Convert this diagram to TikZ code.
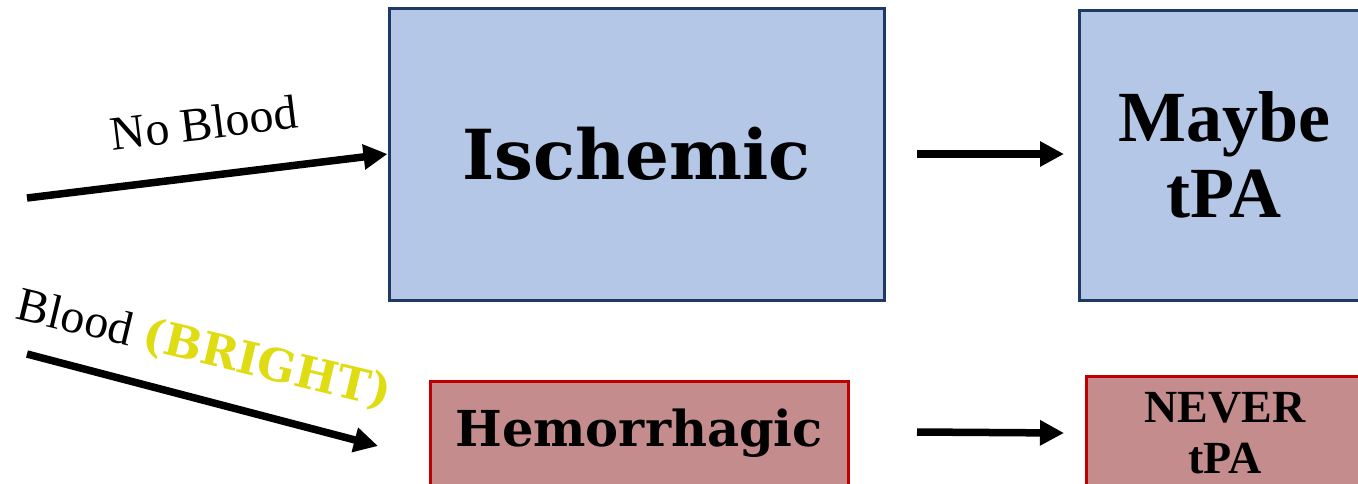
\documentclass[tikz,border=0pt]{standalone}
\usepackage{fontspec}
\setmainfont{Liberation Serif}
\newfontfamily\geo{DejaVu Serif}
\usetikzlibrary{arrows.meta}
\definecolor{bluefill}{HTML}{B4C7E7}
\definecolor{blueline}{HTML}{1F3864}
\definecolor{redfill}{HTML}{C48C8C}
\definecolor{redline}{HTML}{C00000}
\definecolor{bright}{HTML}{E0DC14}
\begin{document}
\begin{tikzpicture}[x=1pt,y=-1pt,
  bluebox/.style={draw=blueline, fill=bluefill, line width=3pt, inner sep=0pt},
  redbox/.style={draw=redline, fill=redfill, line width=3pt, inner sep=0pt},
  conn/.style={line width=7.5pt, -{Triangle[length=24pt,width=24pt]}},
  lbl/.style={inner sep=0pt}]
\clip (0,0) rectangle (1358,483);
\fill[white] (0,0) rectangle (1358,483);
% boxes
\node[bluebox, minimum width=495pt, minimum height=292pt, font=\geo\bfseries\fontsize{69}{72}\selectfont] (isch) at (636.5,154) {Ischemic};
\node[bluebox, minimum width=290pt, minimum height=290pt, align=center, font=\bfseries\fontsize{72}{76}\selectfont] (maybe) at (1224,155) {Maybe\\tPA};
\node[redbox, minimum width=418pt, minimum height=105pt, font=\geo\bfseries\fontsize{49.5}{52}\selectfont] (hem) at (639,433.5) {Hemorrhagic};
\node[redbox, minimum width=278pt, minimum height=114pt, align=center, font=\bfseries\fontsize{46}{51}\selectfont] (never) at (1225,433) {NEVER\\tPA};
% connector ends
\coordinate (nbS) at (27,198);
\coordinate (blS) at (27,354);
\coordinate (blE) at (378,446);
\coordinate (m1S) at (917,154);
\coordinate (m1E) at (1064,154);
\coordinate (m2S) at (917,432);
\coordinate (m2E) at (1064,433);
% connectors
\draw[conn] (nbS) -- (isch.west);
\draw[conn] (blS) -- (blE);
\draw[conn] (m1S) -- (m1E);
\draw[conn] (m2S) -- (m2E);
% labels
\node[lbl, rotate=7, font=\fontsize{48}{50}\selectfont] (nolbl) at (204,123) {No Blood};
\node[lbl, rotate=-13.5, font=\fontsize{48}{52}\selectfont] (bloodlbl) at (204,350) {Blood {\geo\bfseries\color{bright}\fontsize{45}{48}\selectfont(BRIGHT)}};
\end{tikzpicture}
\end{document}
